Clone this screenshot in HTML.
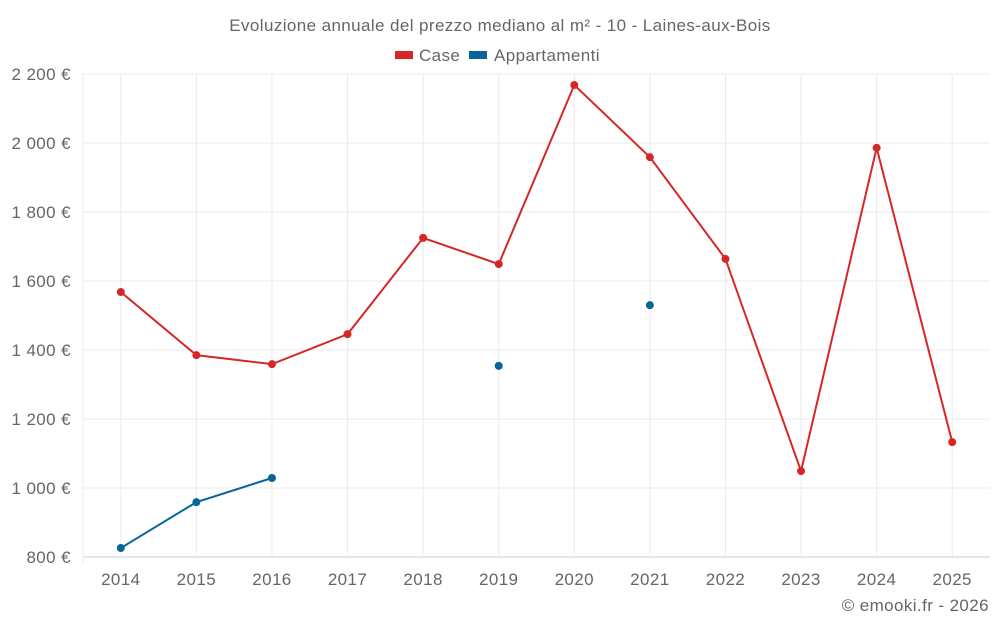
<!DOCTYPE html>
<html><head><meta charset="utf-8"><style>
body{margin:0;background:#fff;font-family:"Liberation Sans",sans-serif}
svg text{font-family:"Liberation Sans",sans-serif;fill:#666;letter-spacing:0.4px}
</style></head><body>
<svg id="c" width="1000" height="625">
<text x="500" y="31" text-anchor="middle" font-size="17">Evoluzione annuale del prezzo mediano al m² - 10 - Laines-aux-Bois</text>
<g>
<rect x="395" y="51" width="18" height="8" fill="#d62728"/>
<text x="419" y="61" font-size="17">Case</text>
<rect x="469" y="51" width="18" height="8" fill="#08649a"/>
<text x="494" y="61" font-size="17">Appartamenti</text>
</g>
<g id="g"></g>
<text x="989" y="611" text-anchor="end" font-size="17">© emooki.fr - 2026</text>
</svg>
<script>
const years=[2014,2015,2016,2017,2018,2019,2020,2021,2022,2023,2024,2025];
const caseVals=[1568,1385,1359,1446,1725,1649,2168,1959,1664,1049,1986,1133];
const apptVals=[826,959,1029,null,null,1354,null,1530,null,null,null,null];
const yTicks=[800,1000,1200,1400,1600,1800,2000,2200];
const L=83,R=990,T=74,B=557,ymin=800,ymax=2200;
const bw=(R-L)/years.length;
const x=i=>L+bw*(i+0.5);
const y=v=>B-(v-ymin)/(ymax-ymin)*(B-T);
const g=document.getElementById('g');const NS='http://www.w3.org/2000/svg';
function mk(t,a){const e=document.createElementNS(NS,t);for(const k in a)e.setAttribute(k,a[k]);g.appendChild(e);return e;}
yTicks.forEach(v=>{
 const l=mk('line',{x1:L,x2:R,y1:y(v),y2:y(v),stroke:v===ymin?'#ccc':'#ebebeb'});
 
 
 const t=mk('text',{x:L-12,y:y(v)+6,'text-anchor':'end','font-size':17});
 t.textContent=v.toLocaleString('fr-FR').replace(/\s/g,' ')+' €';
 
 
});
const l0=mk('line',{x1:L,x2:L,y1:T,y2:B+8,stroke:'#ebebeb'});


years.forEach((yr,i)=>{
 const l=mk('line',{x1:x(i),x2:x(i),y1:T,y2:B,stroke:'#ebebeb'});
 
 
 const t=mk('text',{x:x(i),y:B+28,'text-anchor':'middle','font-size':17});
 t.textContent=yr;
 
 
});
function series(vals,color,name){
 let seg=[];const segs=[];
 vals.forEach((v,i)=>{if(v==null){if(seg.length)segs.push(seg);seg=[];}else seg.push([x(i),y(v)]);});
 if(seg.length)segs.push(seg);
 segs.forEach(s=>{if(s.length>1){const p=mk('polyline',{points:s.map(q=>q.join(',')).join(' '),fill:'none',stroke:color,'stroke-width':2});
  
  }});
 vals.forEach((v,i)=>{if(v==null)return;const c=mk('circle',{cx:x(i),cy:y(v),r:4,fill:color});
  
  });
}
series(caseVals,'#d62728','case');
series(apptVals,'#08649a','appartamenti');
</script>
</body></html>
